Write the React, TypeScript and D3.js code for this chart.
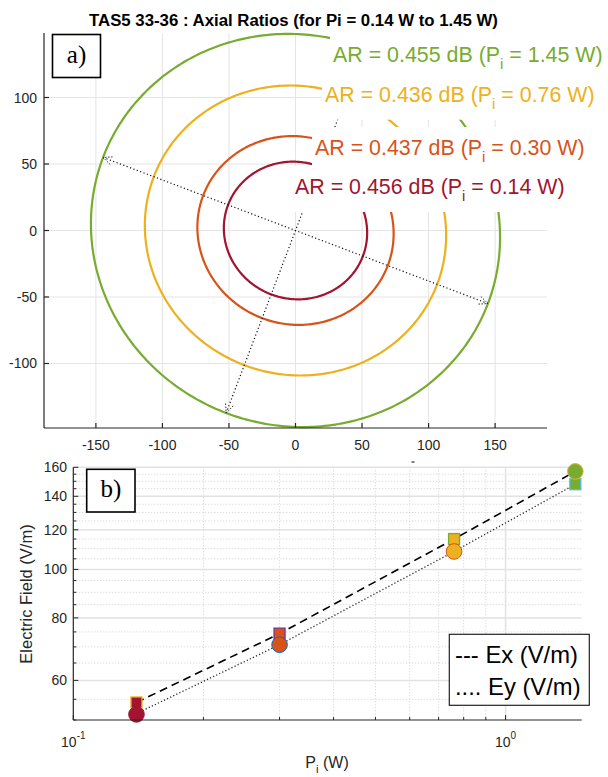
import React, { useEffect, useRef } from 'react';
import * as d3 from 'd3';

// ---------- data ----------
const powers = [0.14, 0.30, 0.76, 1.45];
const axialRatioDb = [0.456, 0.437, 0.436, 0.455];
const semiMajor = [54.2, 74.2, 113.9, 154.7];
const semiMinor = [51.4, 70.5, 108.3, 146.8];
const tiltDeg = -20.8;
const ellipseColors = ['#A2142F', '#D95319', '#EDB120', '#77AC30'];

const exField = [54.2, 74.4, 115, 157];
const eyField = [51.5, 70.7, 108.6, 148];
const squareField = [54.2, 74.4, 115, 148];
const circleField = [51.3, 70.7, 108.6, 157];
const squareFace = ['#A2142F', '#D95319', '#EDB120', '#77AC30'];
const squareEdge = ['#EDB120', '#7E2F8E', '#77AC30', '#4DBEEE'];
const circleFace = ['#A2142F', '#D95319', '#EDB120', '#77AC30'];
const circleEdge = ['#A2142F', '#0072BD', '#D95319', '#EDB120'];

const aXTicks = [-150, -100, -50, 0, 50, 100, 150];
const aYTicks = [-100, -50, 0, 50, 100];
const bYMajor = [60, 80, 100, 120, 140, 160];
const bYMinor = [55, 65, 70, 75, 85, 90, 95, 105, 110, 115, 125, 130, 135, 145, 150, 155];
const bYMinorTicks = [50, 55, 65, 70, 75, 85, 90, 95, 105, 110, 115, 125, 130, 135, 145, 150, 155];
const bXMajor = [0.1, 1];
const bXMajorExp = ['-1', '0'];
const bXMinor = [0.2, 0.3, 0.4, 0.5, 0.6, 0.7, 0.8, 0.9];

const titleText = 'TAS5 33-36 : Axial Ratios (for Pi = 0.14 W to 1.45 W)';
const legendLines = ['--- Ex (V/m)', '.... Ey (V/m)'];

const FONT = '"Liberation Sans", Arial, Helvetica, sans-serif';
const SERIF = '"Liberation Serif", "Times New Roman", serif';
const AX = '#262626';

export default function App() {
  const labelRefs = useRef<(SVGTextElement | null)[]>([]);
  const rectRefs = useRef<(SVGRectElement | null)[]>([]);

  // panel a scales
  const xA = d3.scaleLinear().domain([-189, 189]).range([44, 547]);
  const yA = d3.scaleLinear().domain([-148.5, 148.5]).range([428, 33]);
  // panel b scales
  const xB = d3.scaleLog().domain([0.1, 1.5]).range([73.3, 581.7]);
  const yB = d3.scaleLog().domain([50, 160]).range([720, 467.3]);

  const phi = (tiltDeg * Math.PI) / 180;
  const ux = Math.cos(phi), uy = Math.sin(phi);
  const vx = -Math.sin(phi), vy = Math.cos(phi);

  const lineA = d3.line<[number, number]>().x(d => xA(d[0])).y(d => yA(d[1])).curve(d3.curveLinearClosed);
  const ellipsePaths = powers.map((_, i) => {
    const a = semiMajor[i], b = semiMinor[i];
    const pts: [number, number][] = d3.range(0, 360, 1).map(deg => {
      const t = (deg * Math.PI) / 180;
      return [a * Math.cos(t) * ux + b * Math.sin(t) * vx, a * Math.cos(t) * uy + b * Math.sin(t) * vy];
    });
    return lineA(pts) as string;
  });

  const outer = powers.length - 1;
  const axesEnds: [number, number][] = [
    [semiMajor[outer] * ux, semiMajor[outer] * uy],
    [-semiMajor[outer] * ux, -semiMajor[outer] * uy],
    [semiMinor[outer] * vx, semiMinor[outer] * vy],
    [-semiMinor[outer] * vx, -semiMinor[outer] * vy],
  ];
  const cx0 = xA(0), cy0 = yA(0);
  const arrowHeads = axesEnds.map(([ex, ey]) => {
    const px = xA(ex), py = yA(ey);
    const dx = px - cx0, dy = py - cy0;
    const L = Math.hypot(dx, dy);
    const dxn = dx / L, dyn = dy / L;
    const len = 10, ang = (24 * Math.PI) / 180;
    const rot = (s: number) => [
      px - len * (dxn * Math.cos(s * ang) - dyn * Math.sin(s * ang)),
      py - len * (dxn * Math.sin(s * ang) + dyn * Math.cos(s * ang)),
    ];
    const l = rot(1), r = rot(-1);
    return `M${l[0]},${l[1]}L${px},${py}L${r[0]},${r[1]}`;
  });

  const labelLayout = [
    { x: 295, base: 194 },
    { x: 315, base: 155 },
    { x: 325, base: 101.7 },
    { x: 333, base: 61.7 },
  ];

  useEffect(() => {
    labelRefs.current.forEach((t, i) => {
      const r = rectRefs.current[i];
      if (!t || !r) return;
      const bb = t.getBBox();
      const base = labelLayout[i].base;
      d3.select(r)
        .attr('x', bb.x - 3)
        .attr('width', bb.width + 6)
        .attr('y', base - 28)
        .attr('height', 46);
    });
  }, []);

  const lineB = d3.line<number>().x((_, i) => xB(powers[i])).y(d => yB(d));

  return (
    <svg width={608} height={777} style={{ position: 'absolute', left: 0, top: 0, background: '#fff' }} fontFamily={FONT}>
      <rect x={0} y={0} width={608} height={777} fill="#fff" />
      {/* title */}
      <text x={293.5} y={26} textAnchor="middle" fontWeight="bold" fontSize={16.8} fill="#000">{titleText}</text>

      {/* ---------- panel a ---------- */}
      <g>
        {aXTicks.map(v => (
          <line key={'gx' + v} x1={xA(v)} x2={xA(v)} y1={33} y2={428} stroke="#e4e4e4" strokeWidth={1} />
        ))}
        {aYTicks.map(v => (
          <line key={'gy' + v} x1={44} x2={547} y1={yA(v)} y2={yA(v)} stroke="#e4e4e4" strokeWidth={1} />
        ))}
        {ellipsePaths.map((d, i) => (
          <path key={'el' + i} d={d} fill="none" stroke={ellipseColors[i]} strokeWidth={2.2} />
        ))}
        <line x1={xA(axesEnds[1][0])} y1={yA(axesEnds[1][1])} x2={xA(axesEnds[0][0])} y2={yA(axesEnds[0][1])}
          stroke="#111" strokeWidth={1.2} strokeDasharray="1.2,2.4" />
        <line x1={xA(axesEnds[3][0])} y1={yA(axesEnds[3][1])} x2={xA(axesEnds[2][0])} y2={yA(axesEnds[2][1])}
          stroke="#111" strokeWidth={1.2} strokeDasharray="1.2,2.4" />
        {arrowHeads.map((d, i) => (
          <path key={'ah' + i} d={d} fill="none" stroke="#333" strokeWidth={1} strokeDasharray="1.5,1.5" />
        ))}
        {/* axes */}
        <line x1={44} x2={44} y1={33} y2={428} stroke={AX} strokeWidth={1.2} />
        <line x1={44} x2={547} y1={428} y2={428} stroke={AX} strokeWidth={1.2} />
        {aXTicks.map(v => (
          <g key={'tx' + v}>
            <line x1={xA(v)} x2={xA(v)} y1={428} y2={423} stroke={AX} strokeWidth={1.2} />
            <text x={xA(v)} y={450} textAnchor="middle" fontSize={14} fill={AX}>{String(v)}</text>
          </g>
        ))}
        {aYTicks.map(v => (
          <g key={'ty' + v}>
            <line x1={44} x2={49} y1={yA(v)} y2={yA(v)} stroke={AX} strokeWidth={1.2} />
            <text x={37} y={yA(v) + 5} textAnchor="end" fontSize={14} fill={AX}>{String(v)}</text>
          </g>
        ))}
        {/* labels with white backgrounds */}
        {powers.map((p, i) => (
          <g key={'lab' + i}>
            <rect ref={el => { rectRefs.current[i] = el; }} x={labelLayout[i].x - 3} y={labelLayout[i].base - 28}
              width={280} height={46} fill="#fff" />
            <text ref={el => { labelRefs.current[i] = el; }} x={labelLayout[i].x} y={labelLayout[i].base}
              fontSize={21.4} fill={ellipseColors[i]}>
              {`AR = ${axialRatioDb[i].toFixed(3)} dB (P`}
              <tspan fontSize={15} dy={7}>i</tspan>
              <tspan dy={-7}>{` = ${p.toFixed(2)} W)`}</tspan>
            </text>
          </g>
        ))}
        <rect x={52.5} y={34.5} width={48} height={43} fill="#fff" stroke="#000" strokeWidth={1.6} />
        <text x={76.5} y={63} textAnchor="middle" fontFamily={SERIF} fontSize={25} fill="#000">a)</text>
      </g>

      {/* stray mark between panels */}
      <line x1={411.5} x2={414.5} y1={462} y2={462} stroke="#000" strokeWidth={1} />

      {/* ---------- panel b ---------- */}
      <g>
        {bYMinor.map(v => (
          <line key={'bgm' + v} x1={73.3} x2={581.7} y1={yB(v)} y2={yB(v)} stroke="#cfcfcf" strokeWidth={1} strokeDasharray="1,2" />
        ))}
        {bXMinor.map(v => (
          <line key={'bgxm' + v} x1={xB(v)} x2={xB(v)} y1={467.3} y2={720} stroke="#cfcfcf" strokeWidth={1} strokeDasharray="1,2" />
        ))}
        {bYMajor.map(v => (
          <line key={'bg' + v} x1={73.3} x2={581.7} y1={yB(v)} y2={yB(v)} stroke="#e2e2e2" strokeWidth={1.5} />
        ))}
        <line x1={xB(1)} x2={xB(1)} y1={467.3} y2={720} stroke="#e2e2e2" strokeWidth={1.5} />

        <path d={lineB(exField) as string} fill="none" stroke="#000" strokeWidth={1.6} strokeDasharray="8,5" />
        <path d={lineB(eyField) as string} fill="none" stroke="#222" strokeWidth={1.3} strokeDasharray="1.2,2.2" />

        {squareField.map((v, i) => (
          <rect key={'sq' + i} x={xB(powers[i]) - 5.5} y={yB(v) - 5.5} width={11} height={11}
            fill={squareFace[i]} stroke={squareEdge[i]} strokeWidth={1.3} />
        ))}
        {circleField.map((v, i) => (
          <circle key={'ci' + i} cx={xB(powers[i])} cy={yB(v)} r={7.8}
            fill={circleFace[i]} stroke={circleEdge[i]} strokeWidth={1} />
        ))}

        {/* axes */}
        <line x1={73.3} x2={73.3} y1={467.3} y2={720} stroke={AX} strokeWidth={1.2} />
        <line x1={73.3} x2={581.7} y1={720} y2={720} stroke={AX} strokeWidth={1.2} />
        {bYMajor.map(v => (
          <g key={'byt' + v}>
            <line x1={73.3} x2={78.3} y1={yB(v)} y2={yB(v)} stroke={AX} strokeWidth={1} />
            <text x={67} y={yB(v) + 5} textAnchor="end" fontSize={14} fill={AX}>{String(v)}</text>
          </g>
        ))}
        {bYMinorTicks.map(v => (
          <line key={'bytm' + v} x1={73.3} x2={76.3} y1={yB(v)} y2={yB(v)} stroke={AX} strokeWidth={1} />
        ))}
        {bXMinor.map(v => (
          <line key={'bxtm' + v} x1={xB(v)} x2={xB(v)} y1={720} y2={717} stroke={AX} strokeWidth={1} />
        ))}
        {bXMajor.map((v, i) => (
          <g key={'bxt' + v}>
            <line x1={xB(v)} x2={xB(v)} y1={720} y2={715} stroke={AX} strokeWidth={1} />
            <text x={xB(v)} y={747} textAnchor="middle" fontSize={14} fill={AX}>
              10<tspan fontSize={10} dy={-8}>{bXMajorExp[i]}</tspan>
            </text>
          </g>
        ))}
        <text x={327} y={768} textAnchor="middle" fontSize={16} fill={AX}>
          P<tspan fontSize={11.5} dy={5}>i</tspan><tspan dy={-5}> (W)</tspan>
        </text>
        <text transform="translate(32,594) rotate(-90)" textAnchor="middle" fontSize={16.5} fill={AX}>Electric Field (V/m)</text>

        <rect x={86.7} y={469.3} width={48.3} height={42.7} fill="#fff" stroke="#000" strokeWidth={1.6} />
        <text x={111} y={497} textAnchor="middle" fontFamily={SERIF} fontSize={25} fill="#000">b)</text>

        <rect x={449.3} y={634.3} width={140} height={71} fill="#fff" stroke="#222" strokeWidth={1.2} />
        {legendLines.map((t, i) => (
          <text key={'lg' + i} x={455} y={663 + i * 32} fontSize={23.8} fill="#000">{t}</text>
        ))}
      </g>
    </svg>
  );
}
